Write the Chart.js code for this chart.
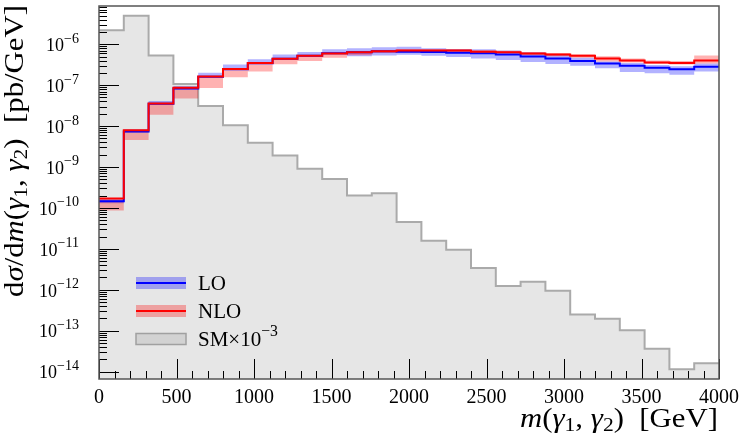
<!DOCTYPE html>
<html>
<head>
<meta charset="utf-8">
<script src="https://cdn.jsdelivr.net/npm/chart.js@4.4.1/dist/chart.umd.min.js"></script>
<style>
  html, body { margin:0; padding:0; background:#fff; }
  #wrap { width:743px; height:436px; }
</style>
</head>
<body>
<div id="wrap"><canvas id="chart" width="743" height="436"></canvas></div>
<script>
// ── Data ──────────────────────────────────────────────────────────────
// left edges of the 160 GeV bins, last bin closes at X_MAX
const binLow = [0, 160, 320, 480, 640, 800, 960, 1120, 1280, 1440, 1600, 1760, 1920,
                2080, 2240, 2400, 2560, 2720, 2880, 3040, 3200, 3360, 3520, 3680, 3840];
const X_MAX  = 4000;

const loCentral = [1.45e-10, 7.4e-9, 3.5e-8, 8.3e-8, 1.6e-7, 2.45e-7, 3.45e-7, 4.4e-7, 5.2e-7, 6.0e-7,
                   6.4e-7, 6.75e-7, 6.6e-7, 6.5e-7, 6.2e-7, 6.0e-7, 5.6e-7, 5.0e-7, 4.5e-7, 3.9e-7,
                   3.4e-7, 3.0e-7, 2.65e-7, 2.45e-7, 2.8e-7];
const loUp      = [1.62e-10, 8.4e-9, 4.1e-8, 9.6e-8, 2.0e-7, 3.2e-7, 4.3e-7, 5.6e-7, 6.5e-7, 7.5e-7,
                   8.0e-7, 8.4e-7, 8.7e-7, 8.0e-7, 7.7e-7, 7.5e-7, 7.0e-7, 6.4e-7, 5.7e-7, 4.7e-7,
                   3.8e-7, 3.5e-7, 3.1e-7, 2.9e-7, 3.4e-7];
const loDown    = [1.30e-10, 7.0e-9, 3.5e-8, 8.0e-8, 1.6e-7, 2.45e-7, 3.45e-7, 4.4e-7, 5.2e-7, 6.0e-7,
                   5.1e-7, 5.3e-7, 5.5e-7, 5.2e-7, 4.9e-7, 4.5e-7, 4.1e-7, 3.7e-7, 3.3e-7, 3.0e-7,
                   2.6e-7, 2.1e-7, 1.95e-7, 1.8e-7, 2.15e-7];

const nloCentral = [1.71e-10, 7.9e-9, 3.55e-8, 8.6e-8, 1.62e-7, 2.5e-7, 3.5e-7, 4.4e-7, 5.2e-7, 5.9e-7,
                    6.4e-7, 6.75e-7, 7.0e-7, 7.0e-7, 7.0e-7, 6.6e-7, 6.4e-7, 5.9e-7, 5.6e-7, 5.2e-7,
                    4.5e-7, 4.0e-7, 3.6e-7, 3.5e-7, 4.0e-7];
const nloUp      = [1.6e-10, 7.9e-9, 3.55e-8, 8.6e-8, 1.62e-7, 2.5e-7, 3.5e-7, 4.4e-7, 5.2e-7, 5.9e-7,
                    6.8e-7, 7.2e-7, 7.5e-7, 7.5e-7, 7.5e-7, 7.1e-7, 6.9e-7, 6.4e-7, 6.1e-7, 5.7e-7,
                    5.1e-7, 4.5e-7, 4.0e-7, 3.9e-7, 5.3e-7];
const nloDown    = [8.7e-11, 4.6e-9, 1.9e-8, 4.7e-8, 8.5e-8, 1.57e-7, 2.15e-7, 3.25e-7, 3.9e-7, 4.7e-7,
                    5.4e-7, 6.1e-7, 6.4e-7, 6.5e-7, 6.5e-7, 6.1e-7, 5.9e-7, 5.4e-7, 5.1e-7, 4.7e-7,
                    3.8e-7, 3.6e-7, 3.3e-7, 3.2e-7, 3.4e-7];

// SM background, already scaled by 1e-3
const smScaled = [2.2e-6, 5.0e-6, 5.3e-7, 1.07e-7, 3.1e-8, 1.05e-8, 3.9e-9, 1.9e-9, 9.1e-10, 5.1e-10,
                  2.0e-10, 2.3e-10, 4.5e-11, 1.58e-11, 9.5e-12, 3.4e-12, 1.23e-12, 1.58e-12, 9.5e-13, 2.5e-13,
                  1.95e-13, 1.02e-13, 3.6e-14, 1.15e-14, 1.6e-14];

const xMajor = [0, 500, 1000, 1500, 2000, 2500, 3000, 3500, 4000];
const yDecades = [-14, -13, -12, -11, -10, -9, -8, -7, -6];
const Y_MIN = 6.6e-15, Y_MAX = 8.6e-6;

// ── Style ─────────────────────────────────────────────────────────────
const SERIF  = "'Liberation Serif', 'DejaVu Serif', serif";
const BLUE   = '#0000ff', RED = '#ff0000';
const BLUE_A = 'rgba(0,0,255,0.3)', RED_A = 'rgba(255,0,0,0.3)';
const SM_FILL = '#e6e6e6', SM_LINE = '#aaaaaa';
const AXIS   = '#555555';

function steps(vals) {
    return vals.map((v, i) => ({ x: binLow[i], y: v }))
               .concat([{ x: X_MAX, y: vals[vals.length - 1] }]);
}

// rich text: parts = [[text, style]], style '' | 'i' | 'sub' | 'sup'
function rich(ctx, parts, x, y, size, align, supScale) {
    const sc = supScale || 0.7;
    const fontFor = st => {
        const s = (st === 'sub' || st === 'sup') ? size * sc : size;
        return `${st === 'i' ? 'italic ' : ''}${s}px ${SERIF}`;
    };
    let total = 0;
    parts.forEach(([t, st]) => { ctx.font = fontFor(st); total += ctx.measureText(t).width; });
    let cx = align === 'right' ? x - total : align === 'center' ? x - total / 2 : x;
    ctx.textAlign = 'left';
    parts.forEach(([t, st]) => {
        ctx.font = fontFor(st);
        let dy = 0;
        if (st === 'sub') dy = size * 0.22;
        if (st === 'sup') dy = -size * 0.4;
        ctx.fillText(t, cx, y + dy);
        cx += ctx.measureText(t).width;
    });
}

const decor = {
    id: 'decor',
    afterDraw(chart) {
        const ctx = chart.ctx, a = chart.chartArea;
        const xs = chart.scales.x, ys = chart.scales.y;
        ctx.save();
        ctx.fillStyle = '#000';
        ctx.strokeStyle = '#000';
        ctx.lineWidth = 1;

        // y ticks (inward)
        yDecades.forEach(d => {
            for (let m = 1; m < 10; m++) {
                const v = m * Math.pow(10, d);
                if (v < Y_MIN || v > Y_MAX) continue;
                const py = Math.round(ys.getPixelForValue(v)) + 0.5;
                ctx.beginPath();
                ctx.moveTo(a.left, py);
                ctx.lineTo(a.left + (m === 1 ? 20 : 8), py);
                ctx.stroke();
            }
            const py = ys.getPixelForValue(Math.pow(10, d));
            ctx.textBaseline = 'middle';
            rich(ctx, [['10', ''], ['\u2212' + Math.abs(d), 'sup']], 79, py + 2, 18, 'right', 0.78);
        });
        // x ticks (inward)
        for (let v = 0; v <= X_MAX; v += 100) {
            const px = Math.round(xs.getPixelForValue(v)) + 0.5;
            ctx.beginPath();
            ctx.moveTo(px, a.bottom);
            ctx.lineTo(px, a.bottom - (v % 500 === 0 ? 20 : 8));
            ctx.stroke();
        }
        ctx.textBaseline = 'middle';
        xMajor.forEach(v => {
            ctx.font = `20px ${SERIF}`;
            ctx.textAlign = 'center';
            ctx.fillText(String(v), xs.getPixelForValue(v), 398);
        });

        // frame
        ctx.strokeStyle = AXIS;
        ctx.lineWidth = 1.5;
        ctx.strokeRect(a.left, a.top, a.right - a.left, a.bottom - a.top);

        // axis titles (stretched a little, the original face is wider)
        ctx.fillStyle = '#000';
        ctx.textBaseline = 'middle';
        ctx.save();
        ctx.translate(718, 420);
        ctx.scale(1.1, 1);
        rich(ctx, [['m', 'i'], ['(', ''], ['\u03b3', 'i'], ['1', 'sub'], [', ', ''], ['\u03b3', 'i'], ['2', 'sub'],
                   [')  [GeV]', '']], 0, 0, 28, 'right');
        ctx.restore();
        ctx.save();
        ctx.translate(16, 5);
        ctx.rotate(-Math.PI / 2);
        ctx.scale(1.1, 1);
        rich(ctx, [['d', ''], ['\u03c3', 'i'], ['/d', ''], ['m', 'i'], ['(', ''], ['\u03b3', 'i'], ['1', 'sub'],
                   [', ', ''], ['\u03b3', 'i'], ['2', 'sub'], [')  [pb/GeV]', '']], 0, 0, 28, 'right');
        ctx.restore();

        // legend
        const items = [
            { band: BLUE_A, line: BLUE, y: 283, label: [['LO', '']] },
            { band: RED_A,  line: RED,  y: 311, label: [['NLO', '']] },
            { band: null,   line: null, y: 339, label: [['SM\u00d710', ''], ['\u22123', 'sup']] },
        ];
        items.forEach(it => {
            if (it.band) {
                ctx.fillStyle = it.band;
                ctx.fillRect(136, it.y - 6, 50, 12);
                ctx.strokeStyle = it.line;
                ctx.lineWidth = 2;
                ctx.beginPath(); ctx.moveTo(136, it.y); ctx.lineTo(186, it.y); ctx.stroke();
            } else {
                ctx.fillStyle = '#d2d2d2';
                ctx.fillRect(136, it.y - 5.5, 50, 11);
                ctx.strokeStyle = '#a0a0a0';
                ctx.lineWidth = 1.5;
                ctx.strokeRect(136, it.y - 5.5, 50, 11);
            }
            ctx.fillStyle = '#000';
            ctx.textBaseline = 'middle';
            rich(ctx, it.label, 198, it.y + 1, 21, 'left', 0.75);
        });
        ctx.restore();
    }
};

// ── Chart ─────────────────────────────────────────────────────────────
const stepLine = (label, vals, color, width, order, extra) => Object.assign({
    label, data: steps(vals), stepped: 'before', borderColor: color, borderWidth: width,
    pointRadius: 0, fill: false, order,
}, extra || {});

new Chart(document.getElementById('chart').getContext('2d'), {
    type: 'line',
    data: {
        datasets: [
            stepLine('NLO', nloCentral, RED, 2, 1),
            stepLine('LO', loCentral, BLUE, 2, 2),
            stepLine('NLO up', nloUp, 'transparent', 1, 4, { fill: '+1', backgroundColor: RED_A }),
            stepLine('NLO down', nloDown, 'transparent', 1, 4),
            stepLine('LO up', loUp, 'transparent', 1, 5, { fill: '+1', backgroundColor: BLUE_A }),
            stepLine('LO down', loDown, 'transparent', 1, 5),
            stepLine('SM', smScaled, SM_LINE, 2, 10, { fill: 'start', backgroundColor: SM_FILL }),
        ]
    },
    options: {
        responsive: false,
        devicePixelRatio: 1,
        animation: false,
        layout: { padding: { top: 6, right: 24, left: 0, bottom: 0 } },
        plugins: { legend: { display: false }, tooltip: { enabled: false } },
        elements: { line: { tension: 0 } },
        scales: {
            x: {
                type: 'linear', min: 0, max: X_MAX,
                grid: { display: false }, border: { display: false },
                ticks: { display: false },
                afterFit(s) { s.height = 57; }
            },
            y: {
                type: 'logarithmic', min: Y_MIN, max: Y_MAX,
                grid: { display: false }, border: { display: false },
                ticks: { display: false },
                afterFit(s) { s.width = 99; }
            }
        }
    },
    plugins: [decor]
});
</script>
</body>
</html>
